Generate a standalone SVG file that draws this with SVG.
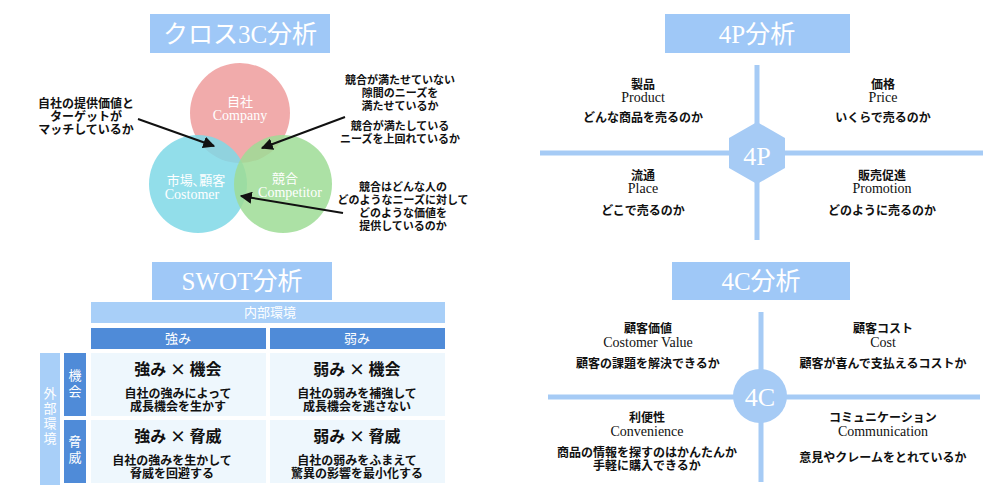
<svg xmlns="http://www.w3.org/2000/svg" width="1000" height="500" viewBox="0 0 1000 500">
<defs>
<marker id="ah" viewBox="0 0 10 10" refX="9" refY="5" markerWidth="6" markerHeight="6" orient="auto"><path d="M0,0 L10,5 L0,10 z" fill="#111"/></marker>
<style>
.ttl{fill:#9fc8f7}
.tt{font-family:"Liberation Serif","Noto Sans CJK JP",serif;font-size:25px;fill:#fff;text-anchor:middle}
.jp{font-family:"Noto Sans CJK JP",sans-serif;font-weight:bold;fill:#111;text-anchor:middle;font-size:12px}
.nt{font-family:"Noto Sans CJK JP",sans-serif;font-weight:bold;fill:#111;text-anchor:middle;font-size:11px}
.en{font-family:"Liberation Serif",serif;fill:#111;text-anchor:middle;font-size:14px}
.ln{stroke:#a6cbf5;stroke-width:5}
.wt{font-family:"Noto Sans CJK JP",sans-serif;fill:#fff;text-anchor:middle;font-size:13px}
.we{font-family:"Liberation Serif",serif;fill:#fff;text-anchor:middle;font-size:14px}
.cell{fill:#eef7fd}
.dk{fill:#4f8bd8}
.lt{fill:#a8cff8}
.big{font-family:"Noto Sans CJK JP",sans-serif;font-weight:bold;fill:#111;text-anchor:middle;font-size:16px}
</style>
</defs>
<!-- 3C -->
<g id="t3c"><rect class="ttl" x="150" y="14" width="180" height="39"/><text class="tt" x="240" y="43">クロス3C分析</text></g>
<g id="company"><circle cx="240" cy="113" r="50" fill="#ee9c9c" opacity="0.85"/><text class="wt" x="240" y="106">自社</text><text class="we" x="240" y="120">Company</text></g>
<g id="customer"><circle cx="198" cy="184" r="49" fill="#7fd8e6" opacity="0.85"/><text class="wt" x="196" y="185">市場､顧客</text><text class="we" x="192" y="199">Costomer</text></g>
<g id="competitor"><circle cx="283" cy="184" r="49" fill="#9ddc95" opacity="0.85"/><text class="wt" x="285" y="183">競合</text><text class="we" x="290" y="197">Competitor</text></g>
<g id="n3c-l"><text class="jp" x="86" y="108">自社の提供価値と</text><text class="jp" x="86" y="121">ターゲットが</text><text class="jp" x="86" y="134">マッチしているか</text></g>
<g id="n3c-r1"><text class="nt" x="400" y="84">競合が満たせていない</text><text class="nt" x="400" y="97">隙間のニーズを</text><text class="nt" x="400" y="110">満たせているか</text><text class="nt" x="400" y="130">競合が満たしている</text><text class="nt" x="400" y="143">ニーズを上回れているか</text></g>
<g id="n3c-r2"><text class="nt" x="403" y="191">競合はどんな人の</text><text class="nt" x="403" y="204">どのようなニーズに対して</text><text class="nt" x="403" y="217">どのような価値を</text><text class="nt" x="403" y="230">提供しているのか</text></g>
<g id="connectors"><line x1="138" y1="119" x2="214" y2="146" stroke="#111" stroke-width="2" marker-end="url(#ah)"/><line x1="345" y1="117" x2="262" y2="148" stroke="#111" stroke-width="2" marker-end="url(#ah)"/><line x1="343" y1="213" x2="241" y2="196" stroke="#111" stroke-width="2" marker-end="url(#ah)"/></g>
<!-- 4P -->
<g id="t4p"><rect class="ttl" x="665" y="14" width="185" height="39"/><text class="tt" x="757" y="43">4P分析</text></g>
<g id="axes4p"><line class="ln" x1="757" y1="65" x2="757" y2="240"/><line class="ln" x1="540" y1="153" x2="983" y2="153"/></g>
<g id="hex4p"><polygon points="757,122 785,138 785,168 757,184 729,168 729,138" fill="#a6cbf5"/><text x="757" y="165" font-family="Liberation Serif,serif" font-size="26" fill="#fff" text-anchor="middle">4P</text></g>
<g id="product"><text class="jp" x="643" y="89" font-size="13">製品</text><text class="en" x="643" y="102">Product</text><text class="jp" x="643" y="122">どんな商品を売るのか</text></g>
<g id="price"><text class="jp" x="883" y="89" font-size="13">価格</text><text class="en" x="883" y="102">Price</text><text class="jp" x="883" y="122">いくらで売るのか</text></g>
<g id="place"><text class="jp" x="643" y="180" font-size="13">流通</text><text class="en" x="643" y="193">Place</text><text class="jp" x="643" y="215">どこで売るのか</text></g>
<g id="promotion"><text class="jp" x="882" y="180" font-size="13">販売促進</text><text class="en" x="882" y="193">Promotion</text><text class="jp" x="882" y="215">どのように売るのか</text></g>
<!-- 4C -->
<g id="t4c"><rect class="ttl" x="672" y="262" width="178" height="38"/><text class="tt" x="761" y="290">4C分析</text></g>
<g id="axes4c"><line class="ln" x1="761" y1="312" x2="761" y2="482"/><line class="ln" x1="548" y1="397" x2="980" y2="397"/></g>
<g id="circ4c"><circle cx="760" cy="396" r="27" fill="#a6cbf5"/><text x="760" y="406" font-family="Liberation Serif,serif" font-size="26" fill="#fff" text-anchor="middle">4C</text></g>
<g id="value"><text class="jp" x="648" y="333" font-size="13">顧客価値</text><text class="en" x="648" y="347">Costomer  Value</text><text class="jp" x="648" y="368">顧客の課題を解決できるか</text></g>
<g id="cost"><text class="jp" x="883" y="333" font-size="13">顧客コスト</text><text class="en" x="883" y="347">Cost</text><text class="jp" x="883" y="368">顧客が喜んで支払えるコストか</text></g>
<g id="conv"><text class="jp" x="647" y="422" font-size="13">利便性</text><text class="en" x="647" y="436">Convenience</text><text class="jp" x="647" y="457">商品の情報を探すのはかんたんか</text><text class="jp" x="647" y="470">手軽に購入できるか</text></g>
<g id="comm"><text class="jp" x="883" y="422" font-size="13">コミュニケーション</text><text class="en" x="883" y="436">Communication</text><text class="jp" x="883" y="462">意見やクレームをとれているか</text></g>
<!-- SWOT -->
<g id="tswot"><rect class="ttl" x="152" y="262" width="180" height="38"/><text class="tt" x="242" y="290">SWOT分析</text></g>
<g id="internal"><rect class="lt" x="91" y="302" width="354" height="21"/><text class="wt" x="270" y="317">内部環境</text></g>
<g id="hs"><rect class="dk" x="91" y="328" width="175" height="21"/><text class="wt" x="178" y="343">強み</text></g>
<g id="hw"><rect class="dk" x="270" y="328" width="175" height="21"/><text class="wt" x="357" y="343">弱み</text></g>
<g id="external"><rect class="lt" x="40" y="353" width="20" height="132"/><text class="wt" x="50" y="398">外</text><text class="wt" x="50" y="413">部</text><text class="wt" x="50" y="428">環</text><text class="wt" x="50" y="443">境</text></g>
<g id="ho"><rect class="dk" x="64" y="353" width="22" height="63"/><text class="wt" x="75" y="380">機</text><text class="wt" x="75" y="396">会</text></g>
<g id="ht"><rect class="dk" x="64" y="420" width="22" height="63"/><text class="wt" x="75" y="446">脅</text><text class="wt" x="75" y="462">威</text></g>
<g id="so"><rect class="cell" x="91" y="353" width="175" height="63"/><text class="big" x="178" y="375">強み × 機会</text><text class="jp" x="178" y="398">自社の強みによって</text><text class="jp" x="178" y="411">成長機会を生かす</text></g>
<g id="wo"><rect class="cell" x="270" y="353" width="175" height="63"/><text class="big" x="357" y="375">弱み × 機会</text><text class="jp" x="357" y="398">自社の弱みを補強して</text><text class="jp" x="357" y="411">成長機会を逃さない</text></g>
<g id="st"><rect class="cell" x="91" y="420" width="175" height="63"/><text class="big" x="178" y="442">強み × 脅威</text><text class="jp" x="172" y="465">自社の強みを生かして</text><text class="jp" x="172" y="478">脅威を回避する</text></g>
<g id="wt"><rect class="cell" x="270" y="420" width="175" height="63"/><text class="big" x="357" y="442">弱み × 脅威</text><text class="jp" x="357" y="465">自社の弱みをふまえて</text><text class="jp" x="357" y="478">驚異の影響を最小化する</text></g>
</svg>
